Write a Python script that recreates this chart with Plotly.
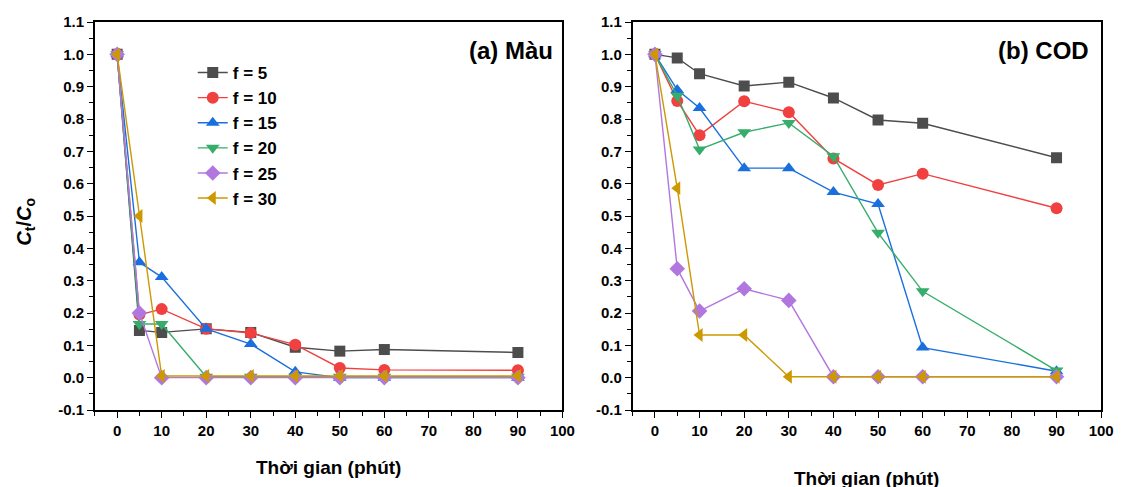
import plotly.graph_objects as go

time = [0, 5, 10, 20, 30, 40, 50, 60, 90]
labels = ["f = 5", "f = 10", "f = 15", "f = 20", "f = 25", "f = 30"]

mau = {
    "f = 5":  [1.0, 0.146, 0.140, 0.151, 0.140, 0.094, 0.082, 0.087, 0.078],
    "f = 10": [1.0, 0.195, 0.212, 0.151, 0.138, 0.102, 0.030, 0.024, 0.023],
    "f = 15": [1.0, 0.357, 0.311, 0.151, 0.104, 0.018, 0.0, 0.0, 0.0],
    "f = 20": [1.0, 0.166, 0.166, 0.003, 0.003, 0.003, 0.003, 0.003, 0.003],
    "f = 25": [1.0, 0.200, 0.0, 0.0, 0.0, 0.0, 0.0, 0.0, 0.0],
    "f = 30": [1.0, 0.500, 0.005, 0.005, 0.005, 0.005, 0.005, 0.005, 0.005],
}
cod = {
    "f = 5":  [1.0, 0.989, 0.940, 0.902, 0.914, 0.865, 0.797, 0.787, 0.680],
    "f = 10": [1.0, 0.856, 0.750, 0.855, 0.821, 0.678, 0.596, 0.631, 0.524],
    "f = 15": [1.0, 0.890, 0.834, 0.648, 0.648, 0.574, 0.537, 0.093, 0.020],
    "f = 20": [1.0, 0.872, 0.706, 0.759, 0.788, 0.685, 0.448, 0.267, 0.022],
    "f = 25": [1.0, 0.337, 0.206, 0.275, 0.239, 0.003, 0.003, 0.003, 0.003],
    "f = 30": [1.0, 0.586, 0.132, 0.132, 0.003, 0.003, 0.003, 0.003, 0.003],
}

y_tickvals = [-0.1, 0.0, 0.1, 0.2, 0.3, 0.4, 0.5, 0.6, 0.7, 0.8, 0.9, 1.0, 1.1]
y_ticktext = ["-0.1", "0.0", "0.1", "0.2", "0.3", "0.4", "0.5", "0.6", "0.7", "0.8", "0.9", "1.0", "1.1"]

colors = ["#4d4d4d", "#f14040", "#1a6fdf", "#37ad6b", "#b177de", "#cc9900"]
symbols = ["square", "circle", "triangle-up", "triangle-down", "diamond", "triangle-left"]
msizes = [11, 12, 12, 12, 12, 12]

FONT = "Liberation Sans, Arial, sans-serif"
W, H = 1128, 487
T, B = 22, 77
PH = H - T - B

fig = go.Figure()
for i, lab in enumerate(labels):
    fig.add_trace(go.Scatter(
        x=time, y=mau[lab], mode="lines+markers", name=lab,
        legendgroup=lab, showlegend=True,
        line=dict(color=colors[i], width=1.4),
        marker=dict(symbol=symbols[i], size=msizes[i], color=colors[i]),
        xaxis="x", yaxis="y"))
for i, lab in enumerate(labels):
    fig.add_trace(go.Scatter(
        x=time, y=cod[lab], mode="lines+markers", name=lab,
        legendgroup=lab, showlegend=False,
        line=dict(color=colors[i], width=1.4),
        marker=dict(symbol=symbols[i], size=msizes[i], color=colors[i]),
        xaxis="x2", yaxis="y2"))

def xax(domain, anchor):
    return dict(domain=domain, anchor=anchor, range=[-5, 100], tick0=0, dtick=10,
                ticks="outside", ticklen=6, tickwidth=1.3, tickcolor="black",
                minor=dict(ticks="outside", ticklen=4, tick0=0, dtick=5, tickcolor="black"),
                showline=True, linecolor="black", linewidth=1.6, mirror=True,
                showgrid=False, zeroline=False,
                tickfont=dict(family=FONT, size=15, color="black", weight="bold"))

def yax(anchor):
    return dict(domain=[0, 1], anchor=anchor, range=[-0.1, 1.1],
                tickmode="array", tickvals=y_tickvals, ticktext=y_ticktext,
                ticks="outside", ticklen=6, tickwidth=1.3, tickcolor="black",
                minor=dict(ticks="outside", ticklen=4, tick0=0, dtick=0.05, tickcolor="black"),
                showline=True, linecolor="black", linewidth=1.6, mirror=True,
                showgrid=False, zeroline=False,
                tickfont=dict(family=FONT, size=15, color="black", weight="bold"))

def py(pixel_y):
    # pixel row (from top of page) -> paper y
    return (H - B - pixel_y) / PH

fig.update_layout(
    width=W, height=H,
    margin=dict(l=0, r=0, t=T, b=B),
    paper_bgcolor="white", plot_bgcolor="white",
    xaxis=xax([96 / W, 569 / W], "y"),
    yaxis=yax("x"),
    xaxis2=xax([640 / W, 1114 / W], "y2"),
    yaxis2=yax("x2"),
    showlegend=True,
    legend=dict(x=195 / W, y=py(55), xanchor="left", yanchor="top",
                bgcolor="rgba(0,0,0,0)", tracegroupgap=0,
                font=dict(family=FONT, size=17, color="black", weight="bold")),
    annotations=[
        dict(text="<b>(a) Màu</b>", x=561 / W, y=py(51), xref="paper", yref="paper",
             xanchor="right", yanchor="middle", showarrow=False,
             font=dict(family=FONT, size=24, color="black")),
        dict(text="<b>(b) COD</b>", x=1104 / W, y=py(51), xref="paper", yref="paper",
             xanchor="right", yanchor="middle", showarrow=False,
             font=dict(family=FONT, size=24, color="black")),
        dict(text="<b>Thời gian (phút)</b>", x=0.5, y=py(468), xref="x domain", yref="paper",
             xanchor="center", yanchor="middle", showarrow=False,
             font=dict(family=FONT, size=19, color="black")),
        dict(text="<b>Thời gian (phút)</b>", x=0.5, y=py(478), xref="x2 domain", yref="paper",
             xanchor="center", yanchor="middle", showarrow=False,
             font=dict(family=FONT, size=19, color="black")),
        dict(text="<b><i>C</i><sub>t</sub>/<i>C</i><sub>o</sub></b>", x=26 / W, y=py(222),
             xref="paper", yref="paper", textangle=-90,
             xanchor="center", yanchor="middle", showarrow=False,
             font=dict(family=FONT, size=20, color="black")),
    ],
)

fig.write_html("out.html", config={"displayModeBar": False},
               post_script="document.body.style.margin='0';document.body.style.overflow='hidden';")
